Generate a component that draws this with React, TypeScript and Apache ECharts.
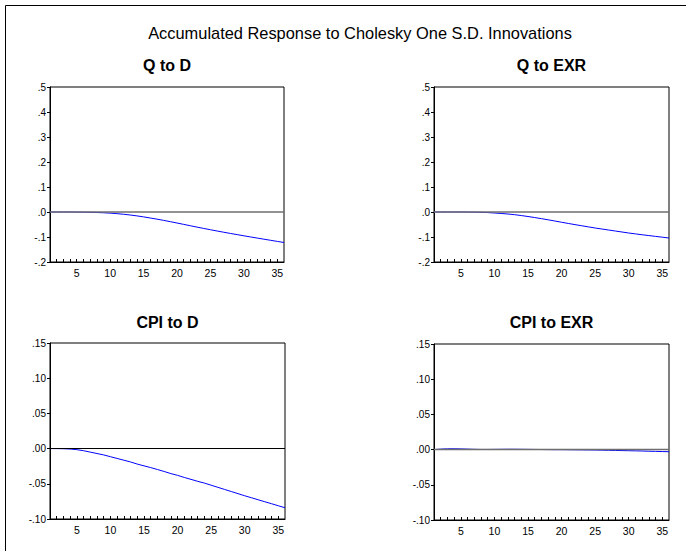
import React, { useEffect, useRef } from "react";
import * as echarts from "echarts";

const periods = [1, 2, 3, 4, 5, 6, 7, 8, 9, 10, 11, 12, 13, 14, 15, 16, 17, 18, 19, 20, 21, 22, 23, 24, 25, 26, 27, 28, 29, 30, 31, 32, 33, 34, 35, 36];

const qToD = [0, 0, 0, 0, -0.0005, -0.0008, -0.0012, -0.002, -0.003, -0.0045, -0.0065, -0.009, -0.012, -0.0155, -0.0195, -0.024, -0.0285, -0.0335, -0.0387, -0.044, -0.0495, -0.055, -0.0605, -0.0658, -0.071, -0.076, -0.081, -0.0858, -0.0905, -0.0952, -0.0998, -0.1043, -0.1088, -0.1132, -0.1176, -0.122];

const qToEXR = [0, 0, 0, 0, 0, -0.0003, -0.0007, -0.0013, -0.0022, -0.004, -0.0058, -0.008, -0.0107, -0.0142, -0.018, -0.0222, -0.0266, -0.0312, -0.036, -0.041, -0.0458, -0.0505, -0.055, -0.0595, -0.064, -0.068, -0.072, -0.076, -0.08, -0.084, -0.0875, -0.091, -0.0943, -0.0975, -0.1007, -0.104];

const cpiToD = [0, 0, -0.0002, -0.0006, -0.0015, -0.003, -0.005, -0.007, -0.009, -0.0115, -0.014, -0.0165, -0.019, -0.022, -0.0245, -0.027, -0.0297, -0.0325, -0.0355, -0.038, -0.041, -0.0437, -0.0465, -0.049, -0.052, -0.055, -0.058, -0.061, -0.064, -0.067, -0.0698, -0.0727, -0.0755, -0.0783, -0.0812, -0.084];

const cpiToEXR = [0, 0.0007, 0.0011, 0.0012, 0.001, 0.0007, 0.0004, 0.0002, 0.0002, 0.0003, 0.0004, 0.0005, 0.0005, 0.0004, 0.0003, 0.0002, 0.0001, 0, -0.0001, -0.0001, -0.0002, -0.0003, -0.0004, -0.0005, -0.0006, -0.0008, -0.001, -0.0012, -0.0014, -0.0016, -0.0018, -0.002, -0.0023, -0.0025, -0.0028, -0.003];

const mainTitle = "Accumulated Response to Cholesky One S.D. Innovations";
const panelTitles = ["Q to D", "Q to EXR", "CPI to D", "CPI to EXR"];
const panelSeries = [qToD, qToEXR, cpiToD, cpiToEXR];
const qAxis = { min: -0.2, max: 0.5, interval: 0.1, decimals: 1 };
const cpiAxis = { min: -0.1, max: 0.15, interval: 0.05, decimals: 2 };
const panelAxes = [qAxis, qAxis, cpiAxis, cpiAxis];

const FONT = "Arial, 'Liberation Sans', Helvetica, sans-serif";

const layout = [
  { left: 50, top: 87, width: 234, height: 175 },
  { left: 434, top: 87, width: 235, height: 175 },
  { left: 50, top: 343, width: 235, height: 176 },
  { left: 434, top: 344, width: 235, height: 176 },
];

const zeroStyles = [
  { color: "#6e6e6e", width: 1.6 },
  { color: "#6e6e6e", width: 1.6 },
  { color: "#000000", width: 1 },
  { color: "#6e6e6e", width: 1.4 },
];

function fmt(v: number, d: number) {
  const s = (Math.round(v * 1000) / 1000).toFixed(d);
  return s.replace(/^(-?)0\./, "$1.");
}

export default function App() {
  const ref = useRef<HTMLDivElement>(null);
  useEffect(() => {
    if (!ref.current) return;
    const chart = echarts.init(ref.current, undefined, { renderer: "svg" });
    const grids = layout.map((l) => ({
      left: l.left,
      top: l.top,
      width: l.width,
      height: l.height,
      show: true,
      borderColor: "#000",
      borderWidth: 1,
      backgroundColor: "transparent",
    }));
    const xAxes = layout.map((_, i) => ({
      type: "value",
      gridIndex: i,
      min: 1,
      max: 36,
      interval: 1,
      splitLine: { show: false },
      axisLine: { show: true, onZero: false, lineStyle: { color: "#000", width: 1 } },
      axisTick: { show: true, inside: true, length: 3, lineStyle: { color: "#000" } },
      axisLabel: {
        margin: 5,
        fontSize: 10.5,
        fontFamily: FONT,
        color: "#000",
        showMinLabel: false,
        showMaxLabel: false,
        formatter: (v: number) => (v % 5 === 0 ? String(v) : ""),
      },
    }));
    const yAxes = panelAxes.map((a, i) => ({
      type: "value",
      gridIndex: i,
      min: a.min,
      max: a.max,
      interval: a.interval,
      splitLine: { show: false },
      axisLine: { show: true, onZero: false, lineStyle: { color: "#000", width: 1 } },
      axisTick: { show: true, inside: false, length: 3, lineStyle: { color: "#000" } },
      axisLabel: {
        margin: 4,
        fontSize: 10,
        fontFamily: FONT,
        color: "#000",
        padding: [0, 0, 5, 0],
        formatter: (v: number) => fmt(v, a.decimals),
      },
    }));
    const series = panelSeries.map((vals, i) => ({
      type: "line",
      xAxisIndex: i,
      yAxisIndex: i,
      data: periods.map((p, k) => [p, vals[k]]),
      showSymbol: false,
      symbol: "none",
      lineStyle: { color: "#0000ff", width: 1 },
      silent: true,
      markLine: {
        silent: true,
        symbol: "none",
        label: { show: false },
        lineStyle: { color: zeroStyles[i].color, width: zeroStyles[i].width, type: "solid" },
        data: [{ yAxis: 0 }],
      },
      z: 3,
    }));
    const graphic: any[] = [
      {
        type: "rect",
        shape: { x: 5.5, y: 5.5, width: 720, height: 600 },
        style: { fill: "none", stroke: "#000", lineWidth: 1 },
        silent: true,
      },
      {
        type: "text",
        style: {
          text: mainTitle,
          x: 360,
          y: 33,
          align: "center",
          verticalAlign: "middle",
          fontSize: 16.4,
          fontFamily: FONT,
          fill: "#000",
        },
      },
    ];
    panelTitles.forEach((t, i) => {
      const l = layout[i];
      graphic.push({
        type: "text",
        style: {
          text: t,
          x: l.left + l.width / 2,
          y: i < 2 ? 65.5 : 322,
          align: "center",
          verticalAlign: "middle",
          fontSize: 16,
          fontWeight: "bold",
          fontFamily: FONT,
          fill: "#000",
        },
      });
    });
    chart.setOption({
      animation: false,
      backgroundColor: "#fff",
      grid: grids,
      xAxis: xAxes,
      yAxis: yAxes,
      series,
      graphic,
    });
    return () => chart.dispose();
  }, []);
  return (
    <div
      ref={ref}
      style={{ position: "fixed", left: 0, top: 0, width: 686, height: 551, background: "#fff" }}
    />
  );
}
